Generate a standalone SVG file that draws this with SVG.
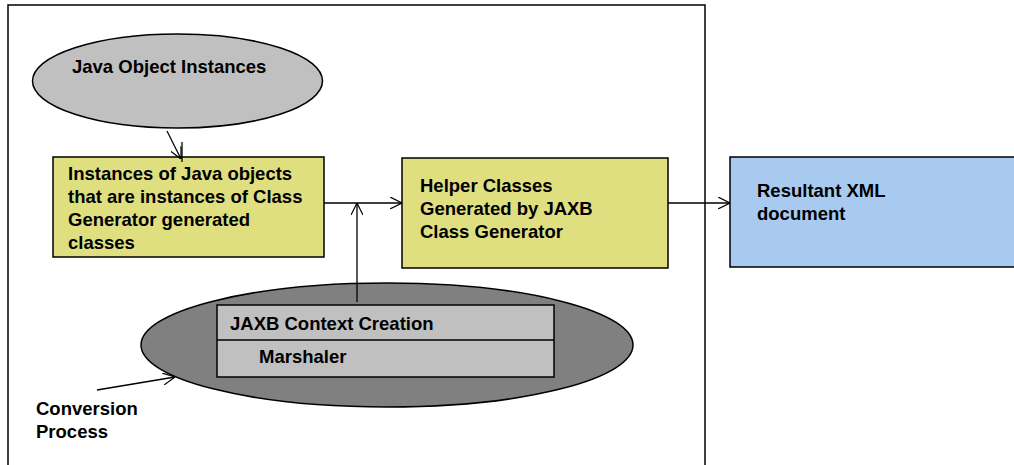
<svg xmlns="http://www.w3.org/2000/svg" width="1014" height="465" viewBox="0 0 1014 465">
<style>
.t{font-family:"Liberation Sans",Arial,sans-serif;font-weight:bold;font-size:18.5px;fill:#000}
.ln{stroke:#000;stroke-width:1.3;fill:none}
.nd{stroke:#000;stroke-width:1.5}
</style>
<defs>
<marker id="ah" viewBox="0 0 12 12" refX="12" refY="6" markerWidth="12" markerHeight="12" markerUnits="userSpaceOnUse" orient="auto">
<path d="M0,0 L12,6 L0,12" fill="none" stroke="#000" stroke-width="1.2"/>
</marker>
</defs>
<rect x="0" y="0" width="1014" height="465" fill="#fff"/>
<path d="M8,465 V5 H705 V465" fill="none" stroke="#000" stroke-width="1.5"/>
<g id="javaObjects">
<ellipse cx="177.5" cy="81" rx="145" ry="47" fill="#c0c0c0" class="nd"/>
<text class="t" x="72" y="73">Java Object Instances</text>
</g>
<g id="instances">
<rect x="53" y="157" width="271" height="100" fill="#dfdf80" class="nd"/>
<text class="t" x="68" y="180">Instances of Java objects</text>
<text class="t" x="68" y="203">that are instances of Class</text>
<text class="t" x="68" y="226">Generator generated</text>
<text class="t" x="68" y="249">classes</text>
</g>
<g id="helper">
<rect x="402" y="158" width="266" height="110" fill="#dfdf80" class="nd"/>
<text class="t" x="420" y="192">Helper Classes</text>
<text class="t" x="420" y="215">Generated by JAXB</text>
<text class="t" x="420" y="238">Class Generator</text>
</g>
<g id="resultant">
<rect x="730" y="157" width="290" height="110" fill="#a8caf0" class="nd"/>
<text class="t" x="757" y="197">Resultant XML</text>
<text class="t" x="757" y="220">document</text>
</g>
<g id="conversion">
<ellipse cx="387" cy="345" rx="246" ry="62" fill="#808080" class="nd"/>
<rect x="217" y="305" width="337" height="72" fill="#c0c0c0" class="nd"/>
<line x1="217" y1="340" x2="554" y2="340" class="nd"/>
<text class="t" x="230" y="330">JAXB Context Creation</text>
<text class="t" x="259" y="363">Marshaler</text>
</g>
<g id="conversionLabel">
<text class="t" x="36" y="415">Conversion</text>
<text class="t" x="36" y="438">Process</text>
</g>
<g id="connectors">
<line x1="167" y1="131" x2="181" y2="159" class="ln" marker-end="url(#ah)"/>
<line x1="182" y1="142" x2="182" y2="162" class="ln"/>
<line x1="324" y1="203" x2="402" y2="203" class="ln" marker-end="url(#ah)"/>
<line x1="357" y1="302" x2="357" y2="203" class="ln" marker-end="url(#ah)"/>
<line x1="668" y1="203" x2="730" y2="203" class="ln" marker-end="url(#ah)"/>
<line x1="97" y1="390" x2="175" y2="377" class="ln" marker-end="url(#ah)"/>
</g>
</svg>
